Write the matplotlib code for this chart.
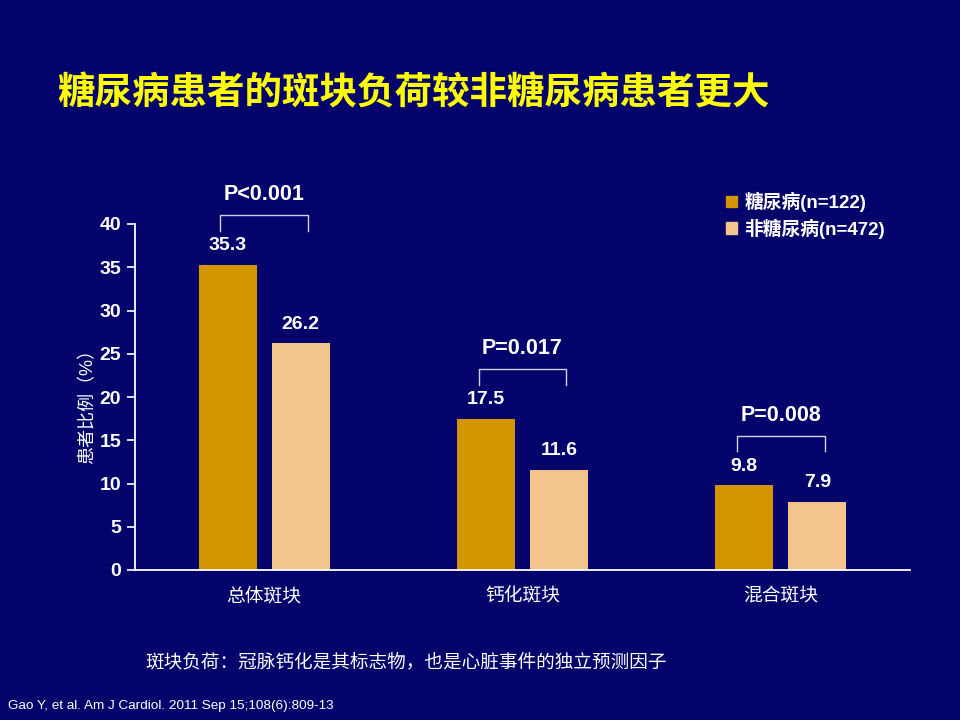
import matplotlib
matplotlib.use("Agg")
import matplotlib.pyplot as plt
import numpy as np
from matplotlib.patches import Patch

plt.rcParams['font.family'] = ['Liberation Sans', 'Noto Sans CJK SC', 'DejaVu Sans']

categories = ['总体斑块', '钙化斑块', '混合斑块']
diabetes = [35.3, 17.5, 9.8]
non_diabetes = [26.2, 11.6, 7.9]
series_names = ['糖尿病(n=122)', '非糖尿病(n=472)']
p_values = ['P<0.001', 'P=0.017', 'P=0.008']
yticks = [0, 5, 10, 15, 20, 25, 30, 35, 40]

BG = '#03036B'
C1 = '#D39500'
C2 = '#F3C48C'

fig = plt.figure(figsize=(9.6, 7.2), dpi=100, facecolor=BG)
ax = fig.add_axes([135/960, 1-570/720, (910-135)/960, (570-224)/720])
ax.set_facecolor(BG)

x = np.arange(len(categories))
w = 0.224
off = 0.141
ax.bar(x - off, diabetes, w, color=C1, label=series_names[0])
ax.bar(x + off, non_diabetes, w, color=C2, label=series_names[1])

for xi, v in zip(x - off, diabetes):
    ax.text(xi, v + 2.2, f'{v:.1f}', ha='center', va='center', color='white',
            fontsize=14, fontweight='bold')
for xi, v in zip(x + off, non_diabetes):
    ax.text(xi, v + 2.2, f'{v:.1f}', ha='center', va='center', color='white',
            fontsize=14, fontweight='bold')

for xi, a, b, p in zip(x, diabetes, non_diabetes, p_values):
    top = max(a, b) + 5.7
    xl, xr = xi - 0.17, xi + 0.17
    ax.plot([xl, xl, xr, xr], [top - 1.8, top, top, top - 1.8], color='#D0D0E8',
            lw=1.0, clip_on=False)
    ax.text(xi, top + 2.4, p, ha='center', va='center', color='white',
            fontsize=15.5, fontweight='bold')

ax.set_xlim(-0.5, 2.5)
ax.set_ylim(0, 40)
ax.set_yticks(yticks)
ax.set_yticklabels([str(t) for t in yticks], fontsize=14, fontweight='bold', color='white')
ax.set_xticks(x)
ax.set_xticklabels(categories, fontsize=13.5, color='white')
ax.tick_params(axis='x', length=0, pad=13)
ax.tick_params(axis='y', length=6, width=1.2, color='white', pad=4, direction='out')
for s in ['top', 'right']:
    ax.spines[s].set_visible(False)
for s in ['left', 'bottom']:
    ax.spines[s].set_color('white')
    ax.spines[s].set_linewidth(1.3)

fig.text(88/960, 1-402/720, '患者比例（%）', rotation=90, ha='center', va='center',
         color='white', fontsize=13)

handles = [Patch(facecolor=C1, edgecolor=C1), Patch(facecolor=C2, edgecolor=C2)]
leg = fig.legend(handles, series_names, loc='upper left',
                 bbox_to_anchor=(709/960, 1-175/720), frameon=False,
                 handlelength=0.6, handleheight=0.6, handletextpad=0.4,
                 labelspacing=0.35, fontsize=13.5)
for t in leg.get_texts():
    t.set_color('white')
    t.set_fontweight('bold')

fig.text(57/960, 1-93/720, '糖尿病患者的斑块负荷较非糖尿病患者更大', ha='left', va='center',
         color='#FFFF00', fontsize=27, fontweight='bold',
         family=['Noto Sans CJK SC'])

fig.text(145/960, 1-662/720, '斑块负荷：冠脉钙化是其标志物，也是心脏事件的独立预测因子',
         ha='left', va='center', color='white', fontsize=13.4,
         family=['Noto Sans CJK SC'])

fig.text(8/960, 1-706/720, 'Gao Y, et al. Am J Cardiol. 2011 Sep 15;108(6):809-13',
         ha='left', va='center', color='white', fontsize=9.7,
         family=['Liberation Sans Narrow', 'Liberation Sans'])

fig.savefig('out.png', dpi=100, facecolor=BG)
